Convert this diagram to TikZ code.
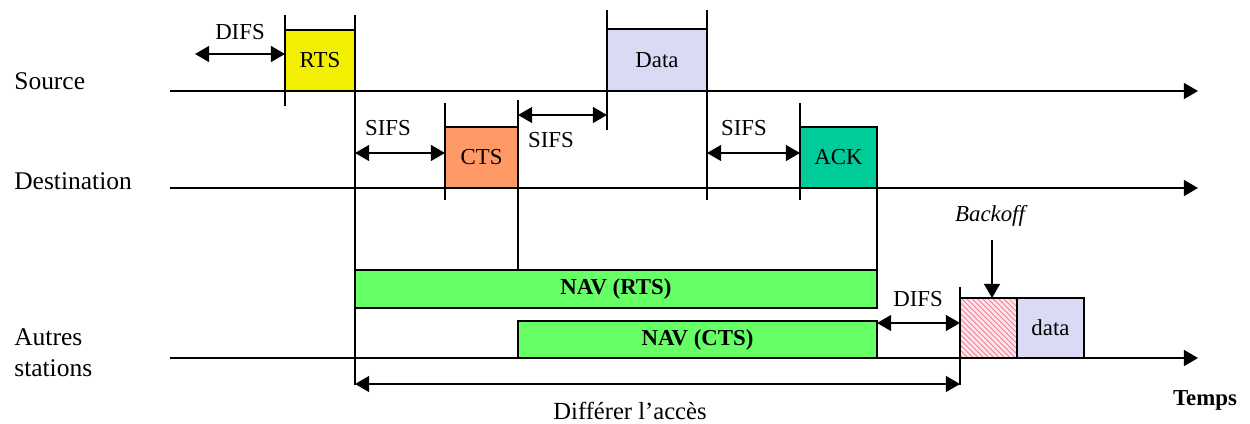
\documentclass[tikz,border=0pt]{standalone}
\usepackage{fontspec}
\setmainfont{Liberation Serif}
\usetikzlibrary{arrows.meta,patterns}
\definecolor{rtsY}{HTML}{F2F000}
\definecolor{ctsO}{HTML}{FF9966}
\definecolor{ackG}{HTML}{00CC99}
\definecolor{dataL}{HTML}{DADAF5}
\definecolor{navG}{HTML}{66FF66}
\definecolor{hatchR}{HTML}{F0708A}
\definecolor{hatchBg}{HTML}{FFE4EA}
\tikzset{
  pkt/.style={draw=black, line width=1pt, inner sep=0pt, outer sep=0pt, font=\fontsize{13}{15}\selectfont},
  axis/.style={line width=1.1pt, -{Triangle[length=8pt,width=9pt]}},
  tick/.style={line width=0.7pt},
  span/.style={line width=0.9pt, {Triangle[length=8pt,width=9pt]}-{Triangle[length=8pt,width=9pt]}},
  lbl/.style={font=\fontsize{13}{15}\selectfont, inner sep=0pt},
  big/.style={font=\fontsize{14.5}{17}\selectfont, inner sep=0pt, anchor=west},
}
\begin{document}
\begin{tikzpicture}[x=0.02cm,y=-0.02cm]
\useasboundingbox (0,0) rectangle (1250,423);
% axes
\coordinate (s0) at (170,91); \coordinate (s1) at (1198,91);
\coordinate (d0) at (170,188); \coordinate (d1) at (1198,188);
\coordinate (a0) at (170,358); \coordinate (a1) at (1198,358);
\draw[axis] (s0) -- (s1);
\draw[axis] (d0) -- (d1);
\draw[axis] (a0) -- (a1);
% row labels
\node[big] (src) at (14,81) {Source};
\node[big] (dst) at (14,181) {Destination};
\node[big, align=left, font=\fontsize{14.5}{17.5}\selectfont] (oth) at (14,353) {Autres\\stations};
% packets
\node[pkt, fill=rtsY, minimum width=1.4cm, minimum height=1.22cm] (RTS) at (320,60.5) {RTS};
\node[pkt, fill=dataL, minimum width=2cm, minimum height=1.24cm] (Data) at (657,60) {Data};
\node[pkt, fill=ctsO, minimum width=1.46cm, minimum height=1.22cm] (CTS) at (481.5,157.5) {CTS};
\node[pkt, fill=ackG, minimum width=1.54cm, minimum height=1.22cm] (ACK) at (838.5,157.5) {ACK};
\node[pkt, fill=navG, minimum width=10.44cm, minimum height=0.76cm, font=\fontsize{13}{15}\selectfont\bfseries] (NAVR) at (616,289) {NAV (RTS)};
\node[pkt, fill=navG, minimum width=7.18cm, minimum height=0.74cm, font=\fontsize{13}{15}\selectfont\bfseries] (NAVC) at (697.5,339.5) {NAV (CTS)};
\node[pkt, fill=hatchBg, minimum width=1.14cm, minimum height=1.2cm] (BO) at (988.5,328) {};
\fill[pattern=north west lines, pattern color=hatchR] (BO.south west) rectangle (BO.north east);
\draw[line width=1pt] (BO.south west) rectangle (BO.north east);
\node[pkt, fill=dataL, minimum width=1.34cm, minimum height=1.2cm] (dat) at (1050.5,328) {data};
% ticks
\draw[tick] (285,15) -- (285,106);
\draw[tick] (355,15) -- (355,385);
\draw[tick] (607,10) -- (607,130);
\draw[tick] (707,10) -- (707,200);
\draw[tick] (445,103) -- (445,200);
\draw[tick] (518,100) -- (518,270);
\draw[tick] (800,103) -- (800,200);
\draw[tick] (877,188) -- (877,270);
\draw[tick] (960,287) -- (960,385);
% spans
\coordinate (difs1) at (195,54);
\draw[span] (difs1) -- (RTS.west |- difs1);
\node[lbl] at (240,32) {DIFS};
\coordinate (sifs1) at (355,153);
\draw[span] (sifs1) -- (CTS.west |- sifs1);
\node[lbl] at (388,128) {SIFS};
\coordinate (sifs2) at (518,115);
\draw[span] (sifs2) -- (Data.west |- sifs2);
\node[lbl] at (551,140) {SIFS};
\coordinate (sifs3) at (707,153);
\draw[span] (sifs3) -- (ACK.west |- sifs3);
\node[lbl] at (744,128) {SIFS};
\coordinate (difs2) at (877,323);
\draw[span] (difs2) -- (BO.west |- difs2);
\node[lbl] at (918,299) {DIFS};
\coordinate (dif0) at (355,384); \coordinate (dif1) at (960,384);
\draw[span] (dif0) -- (dif1);
\node[lbl, font=\fontsize{14}{16}\selectfont] (defer) at (630,411) {Différer l’accès};
% backoff
\node[lbl, font=\fontsize{13}{15}\selectfont\itshape] (bol) at (990,216) {Backoff};
\coordinate (boa) at (992,240);
\draw[line width=0.9pt, -{Triangle[length=8pt,width=9pt]}] (boa) -- (BO.north -| boa);
\node[lbl, font=\fontsize{13}{15}\selectfont\bfseries] (temps) at (1205,400) {Temps};
\end{tikzpicture}
\end{document}
